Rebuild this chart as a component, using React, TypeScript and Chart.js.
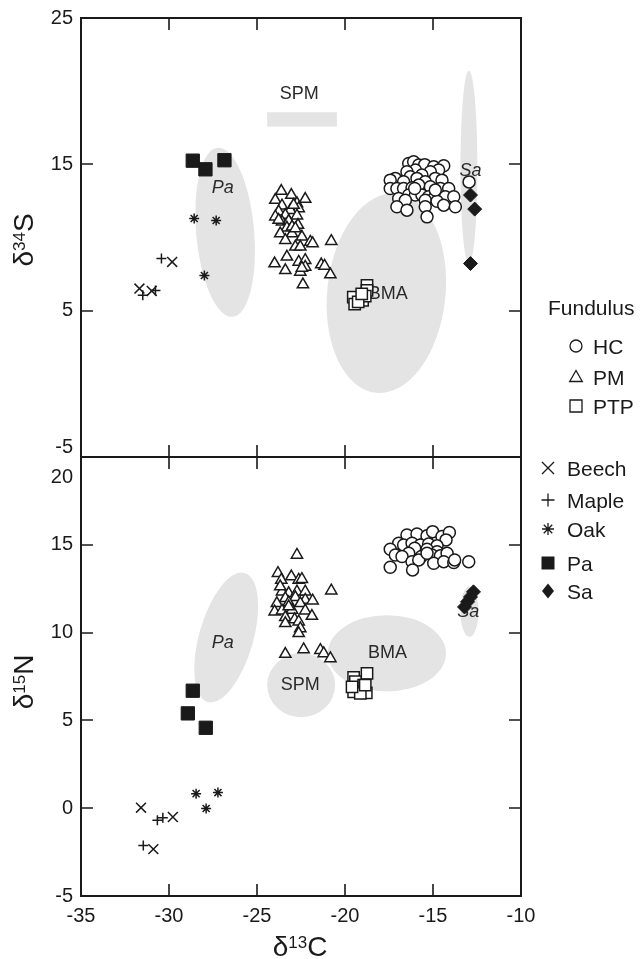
import React, { useEffect, useRef } from 'react';
import { Chart, registerables } from 'chart.js';

Chart.register(...registerables);

type Pt = [number, number];

// ---------- axes ----------
const X_MIN = -35;
const X_MAX = -10;
const X_TICKS = [-35, -30, -25, -20, -15, -10];
const S_MIN = -5;
const S_MAX = 25;
const S_TICKS = [-5, 5, 15, 25];
const N_MIN = -5;
const N_MAX = 20;
const N_TICKS = [-5, 0, 5, 10, 15, 20];

// ---------- δ13C / δ34S (upper panel) ----------
const BEECH_S: Pt[] = [[-31.68, 6.51], [-30.98, 6.35], [-29.82, 8.33]];
const MAPLE_S: Pt[] = [[-31.49, 6.05], [-30.77, 6.37], [-30.43, 8.56]];
const OAK_S: Pt[] = [[-28.57, 11.3], [-27.32, 11.16], [-27.99, 7.4]];
const PA_S: Pt[] = [[-28.65, 15.25], [-27.93, 14.66], [-26.85, 15.28]];
const SA_S: Pt[] = [[-12.87, 12.9], [-12.63, 11.94], [-12.87, 8.22]];
const PTP_S: Pt[] = [
  [-19.53, 5.93], [-19.45, 5.45], [-19.0, 5.71], [-18.75, 6.73],
  [-18.75, 6.39], [-18.85, 6.0], [-19.25, 5.6], [-19.05, 6.15],
];
const PM_S: Pt[] = [
  [-23.62, 13.17], [-23.05, 12.9], [-22.26, 12.63], [-23.96, 12.56], [-23.58, 12.17],
  [-22.73, 12.33], [-22.63, 11.99], [-23.11, 11.87], [-23.77, 11.76], [-23.39, 11.53],
  [-22.73, 11.49], [-23.96, 11.42], [-23.58, 11.07], [-23.2, 11.12], [-22.67, 10.85],
  [-23.3, 10.66], [-23.68, 10.27], [-23.01, 10.27], [-22.45, 10.05], [-23.39, 9.82],
  [-21.97, 9.7], [-21.84, 9.59], [-20.78, 9.75], [-22.82, 9.36], [-22.54, 9.36],
  [-23.3, 8.68], [-24.0, 8.22], [-22.63, 8.33], [-22.26, 8.45], [-23.39, 7.76],
  [-22.54, 7.65], [-22.26, 7.99], [-21.35, 8.15], [-21.16, 8.06], [-20.83, 7.47],
  [-22.39, 6.78], [-22.45, 7.92], [-22.92, 12.22], [-23.77, 11.19], [-23.01, 10.73],
  [-22.82, 10.62],
];
const HC_S: Pt[] = [
  [-16.38, 15.06], [-16.1, 15.18], [-15.81, 14.95], [-15.47, 14.98], [-14.96, 14.84],
  [-14.39, 14.9], [-14.68, 14.61], [-16.0, 14.61], [-16.48, 14.49], [-15.15, 14.49],
  [-15.63, 14.27], [-16.29, 14.15], [-17.14, 14.04], [-17.43, 13.92], [-14.87, 14.04],
  [-14.49, 13.92], [-15.91, 14.04], [-16.67, 13.81], [-15.44, 13.81], [-17.43, 13.35],
  [-17.05, 13.35], [-16.67, 13.35], [-16.19, 13.4], [-15.81, 13.58], [-15.15, 13.47],
  [-14.58, 13.35], [-14.11, 13.35], [-16.38, 12.9], [-16.0, 12.9], [-15.63, 12.9],
  [-15.25, 12.78], [-14.96, 12.67], [-14.3, 12.78], [-13.82, 12.78], [-16.95, 12.67],
  [-16.57, 12.55], [-15.44, 12.55], [-14.77, 12.48], [-17.05, 12.1], [-16.48, 11.87],
  [-15.44, 12.1], [-14.39, 12.21], [-13.73, 12.1], [-15.34, 11.41], [-16.04, 13.35],
  [-14.87, 13.24], [-12.95, 13.8],
];

// ---------- δ13C / δ15N (lower panel) ----------
const BEECH_N: Pt[] = [[-31.59, 0.03], [-29.78, -0.5], [-30.89, -2.33]];
const MAPLE_N: Pt[] = [[-30.66, -0.69], [-30.35, -0.54], [-31.46, -2.12]];
const OAK_N: Pt[] = [[-28.46, 0.83], [-27.22, 0.89], [-27.89, -0.02]];
const PA_N: Pt[] = [[-28.65, 6.69], [-28.93, 5.4], [-27.91, 4.58]];
const SA_N: Pt[] = [[-12.7, 12.32], [-12.87, 12.03], [-13.04, 11.75], [-13.21, 11.46]];
const PTP_N: Pt[] = [
  [-19.51, 7.45], [-18.75, 7.68], [-19.41, 7.2], [-18.94, 7.01], [-19.51, 6.63],
  [-18.79, 6.57], [-19.13, 6.54], [-19.6, 6.91], [-18.85, 7.01],
];
const PM_N: Pt[] = [
  [-22.73, 14.42], [-23.81, 13.38], [-23.62, 13.0], [-23.05, 13.19], [-22.63, 13.0],
  [-22.45, 13.04], [-20.78, 12.39], [-23.58, 12.33], [-23.2, 12.24], [-22.73, 12.33],
  [-22.26, 12.33], [-23.39, 11.95], [-22.82, 12.01], [-22.26, 11.86], [-21.84, 11.82],
  [-23.87, 11.67], [-23.2, 11.71], [-22.54, 11.67], [-24.0, 11.19], [-23.58, 11.25],
  [-23.01, 11.29], [-22.26, 11.25], [-21.88, 10.94], [-23.39, 10.87], [-22.86, 10.75],
  [-23.39, 10.53], [-22.63, 10.62], [-22.54, 10.24], [-22.63, 9.96], [-23.39, 8.78],
  [-22.35, 9.04], [-21.4, 9.0], [-21.21, 8.81], [-20.83, 8.53], [-23.2, 11.48],
  [-23.68, 12.62],
];
const HC_N: Pt[] = [
  [-16.48, 15.56], [-15.91, 15.62], [-15.34, 15.51], [-15.02, 15.75], [-14.49, 15.47],
  [-14.07, 15.7], [-14.26, 15.28], [-16.95, 15.09], [-16.67, 14.99], [-16.19, 15.09],
  [-15.72, 14.99], [-15.25, 15.05], [-14.77, 14.94], [-17.43, 14.75], [-16.04, 14.8],
  [-15.34, 14.75], [-14.77, 14.61], [-17.14, 14.42], [-16.38, 14.52], [-15.66, 14.33],
  [-15.06, 14.42], [-14.58, 14.37], [-14.2, 14.52], [-16.76, 14.33], [-16.19, 14.04],
  [-14.96, 13.95], [-14.39, 14.04], [-13.82, 13.99], [-15.81, 14.14], [-17.43, 13.72],
  [-16.16, 13.57], [-13.77, 14.14], [-12.97, 14.04], [-15.34, 14.52],
];

// ---------- source regions (data units: centre, semi-axes, tilt in degrees) ----------
type Ell = { cx: number; cy: number; rx: number; ry: number; rot: number };
type Box = { x0: number; x1: number; y0: number; y1: number };
type Lbl = { text: string; x: number; y: number; italic: boolean };

const S_ELLIPSES: Ell[] = [
  { cx: -26.81, cy: 10.36, rx: 1.65, ry: 5.8, rot: -5 },
  { cx: -17.65, cy: 6.2, rx: 3.36, ry: 6.85, rot: 6 },
  { cx: -12.96, cy: 14.8, rx: 0.48, ry: 6.6, rot: 0 },
];
const S_BOXES: Box[] = [{ x0: -24.42, x1: -20.46, y0: 17.58, y1: 18.56 }];
const S_LABELS: Lbl[] = [
  { text: 'SPM', x: -22.6, y: 19.82, italic: false },
  { text: 'Pa', x: -26.94, y: 13.36, italic: true },
  { text: 'BMA', x: -17.54, y: 6.12, italic: false },
  { text: 'Sa', x: -12.87, y: 14.55, italic: true },
];
const N_ELLIPSES: Ell[] = [
  { cx: -26.75, cy: 9.72, rx: 1.54, ry: 3.82, rot: 16 },
  { cx: -22.49, cy: 7.01, rx: 1.93, ry: 1.83, rot: 0 },
  { cx: -17.62, cy: 8.82, rx: 3.36, ry: 2.17, rot: 0 },
  { cx: -12.93, cy: 11.19, rx: 0.51, ry: 1.43, rot: 0 },
];
const N_BOXES: Box[] = [];
const N_LABELS: Lbl[] = [
  { text: 'Pa', x: -26.94, y: 9.42, italic: true },
  { text: 'SPM', x: -22.54, y: 7.01, italic: false },
  { text: 'BMA', x: -17.58, y: 8.82, italic: false },
  { text: 'Sa', x: -12.99, y: 11.19, italic: true },
];

// ---------- legend ----------
const LEGEND_TITLE = 'Fundulus';
const LEGEND_FISH: [string, string][] = [['circle', 'HC'], ['triangle', 'PM'], ['square', 'PTP']];
const LEGEND_SOURCES: [string, string][] = [
  ['x', 'Beech'], ['plus', 'Maple'], ['star', 'Oak'], ['fsquare', 'Pa'], ['fdiamond', 'Sa'],
];

// ---------- styles ----------
const FONT = '"Liberation Sans", Arial, Helvetica, sans-serif';
const INK = '#1a1a1a';
const REGION = '#e4e4e4';
const TICK_FONT = { family: FONT, size: 20, lineHeight: 1 };

const STYLE: Record<string, any> = {
  Beech: { pointStyle: 'crossRot', pointRadius: 7, backgroundColor: INK, borderColor: INK, borderWidth: 1.5 },
  Maple: { pointStyle: 'cross', pointRadius: 5, backgroundColor: INK, borderColor: INK, borderWidth: 1.5 },
  Oak: { pointStyle: 'star', pointRadius: 5, backgroundColor: INK, borderColor: INK, borderWidth: 1.5 },
  Pa: { pointStyle: 'rect', pointRadius: 9.4, backgroundColor: INK, borderColor: INK, borderWidth: 1 },
  Sa: { pointStyle: 'rectRot', pointRadius: 7, backgroundColor: INK, borderColor: INK, borderWidth: 1 },
  PTP: { pointStyle: 'rect', pointRadius: 8, backgroundColor: '#ffffff', borderColor: INK, borderWidth: 1.5 },
  PM: { pointStyle: 'triangle', pointRadius: 6.5, backgroundColor: '#ffffff', borderColor: INK, borderWidth: 1.5 },
  HC: { pointStyle: 'circle', pointRadius: 6, backgroundColor: '#ffffff', borderColor: INK, borderWidth: 1.5 },
};

function series(label: string, pts: Pt[]) {
  const s = STYLE[label];
  return {
    label,
    data: pts.map(([x, y]) => ({ x, y })),
    showLine: false,
    ...s,
    pointHoverRadius: s.pointRadius,
    pointBorderWidth: s.borderWidth,
  };
}

function regionPlugin(ells: Ell[], boxes: Box[], labels: Lbl[]) {
  return {
    id: 'regions',
    beforeDatasetsDraw(chart: any) {
      const { ctx, chartArea: a, scales } = chart;
      const xs = scales.x;
      const ys = scales.y;
      ctx.save();
      ctx.beginPath();
      ctx.rect(a.left, a.top, a.right - a.left, a.bottom - a.top);
      ctx.clip();
      ctx.fillStyle = REGION;
      for (const e of ells) {
        const px = xs.getPixelForValue(e.cx);
        const py = ys.getPixelForValue(e.cy);
        const rx = Math.abs(xs.getPixelForValue(e.cx + e.rx) - px);
        const ry = Math.abs(ys.getPixelForValue(e.cy + e.ry) - py);
        ctx.beginPath();
        ctx.ellipse(px, py, rx, ry, (e.rot * Math.PI) / 180, 0, Math.PI * 2);
        ctx.fill();
      }
      for (const b of boxes) {
        const x0 = xs.getPixelForValue(b.x0);
        const x1 = xs.getPixelForValue(b.x1);
        const y0 = ys.getPixelForValue(b.y0);
        const y1 = ys.getPixelForValue(b.y1);
        ctx.fillRect(Math.min(x0, x1), Math.min(y0, y1), Math.abs(x1 - x0), Math.abs(y1 - y0));
      }
      ctx.fillStyle = '#2a2a2a';
      ctx.textAlign = 'center';
      ctx.textBaseline = 'middle';
      for (const l of labels) {
        ctx.font = `${l.italic ? 'italic ' : ''}18px ${FONT}`;
        ctx.fillText(l.text, xs.getPixelForValue(l.x), ys.getPixelForValue(l.y));
      }
      ctx.restore();
    },
  };
}

function framePlugin(yTicks: number[]) {
  return {
    id: 'frame',
    afterDraw(chart: any) {
      const { ctx, chartArea: a, scales } = chart;
      const xs = scales.x;
      const ys = scales.y;
      const T = 12;
      ctx.save();
      ctx.strokeStyle = INK;
      ctx.lineWidth = 2;
      ctx.strokeRect(a.left, a.top, a.right - a.left, a.bottom - a.top);
      ctx.lineWidth = 1.6;
      ctx.beginPath();
      for (const v of yTicks) {
        if (v <= ys.min || v >= ys.max) continue;
        const p = Math.round(ys.getPixelForValue(v));
        ctx.moveTo(a.left, p);
        ctx.lineTo(a.left + T, p);
        ctx.moveTo(a.right - T, p);
        ctx.lineTo(a.right, p);
      }
      for (const v of X_TICKS) {
        if (v <= X_MIN || v >= X_MAX) continue;
        const p = Math.round(xs.getPixelForValue(v));
        ctx.moveTo(p, a.top);
        ctx.lineTo(p, a.top + T);
        ctx.moveTo(p, a.bottom - T);
        ctx.lineTo(p, a.bottom);
      }
      ctx.stroke();
      ctx.restore();
    },
  };
}

// draws δ + superscript + letter, optionally rotated
function drawIsoTitle(ctx: CanvasRenderingContext2D, sup: string, el: string, x: number, y: number, rotated: boolean) {
  const big = `28px ${FONT}`;
  const small = `17px ${FONT}`;
  ctx.save();
  ctx.fillStyle = INK;
  ctx.textBaseline = 'alphabetic';
  ctx.textAlign = 'left';
  ctx.font = big;
  const wd = ctx.measureText('δ').width;
  const we = ctx.measureText(el).width;
  ctx.font = small;
  const ws = ctx.measureText(sup).width;
  const total = wd + ws + we;
  ctx.translate(x, y);
  if (rotated) ctx.rotate(-Math.PI / 2);
  let u = -total / 2;
  ctx.font = big;
  ctx.fillText('δ', u, 0);
  u += wd;
  ctx.font = small;
  ctx.fillText(sup, u, -8);
  u += ws;
  ctx.font = big;
  ctx.fillText(el, u, 0);
  ctx.restore();
}

function drawSymbol(ctx: CanvasRenderingContext2D, kind: string, x: number, y: number) {
  ctx.save();
  ctx.strokeStyle = INK;
  ctx.fillStyle = INK;
  ctx.lineWidth = 1.3;
  ctx.beginPath();
  switch (kind) {
    case 'circle':
      ctx.arc(x, y, 6, 0, Math.PI * 2);
      ctx.stroke();
      break;
    case 'triangle':
      ctx.moveTo(x, y - 6.5);
      ctx.lineTo(x + 6.3, y + 4.5);
      ctx.lineTo(x - 6.3, y + 4.5);
      ctx.closePath();
      ctx.stroke();
      break;
    case 'square':
      ctx.rect(x - 6, y - 6, 12, 12);
      ctx.stroke();
      break;
    case 'x':
      ctx.moveTo(x - 6, y - 6);
      ctx.lineTo(x + 6, y + 6);
      ctx.moveTo(x - 6, y + 6);
      ctx.lineTo(x + 6, y - 6);
      ctx.stroke();
      break;
    case 'plus':
      ctx.moveTo(x - 6.5, y);
      ctx.lineTo(x + 6.5, y);
      ctx.moveTo(x, y - 6.5);
      ctx.lineTo(x, y + 6.5);
      ctx.stroke();
      break;
    case 'star': {
      const d = 6 * Math.SQRT1_2;
      ctx.moveTo(x - 6, y);
      ctx.lineTo(x + 6, y);
      ctx.moveTo(x, y - 6);
      ctx.lineTo(x, y + 6);
      ctx.moveTo(x - d, y - d);
      ctx.lineTo(x + d, y + d);
      ctx.moveTo(x - d, y + d);
      ctx.lineTo(x + d, y - d);
      ctx.stroke();
      break;
    }
    case 'fsquare':
      ctx.fillRect(x - 6.5, y - 6.5, 13, 13);
      break;
    case 'fdiamond':
      ctx.moveTo(x, y - 7.5);
      ctx.lineTo(x + 6, y);
      ctx.lineTo(x, y + 7.5);
      ctx.lineTo(x - 6, y);
      ctx.closePath();
      ctx.fill();
      break;
  }
  ctx.restore();
}

const topTitlePlugin = {
  id: 'topTitle',
  afterDraw(chart: any) {
    drawIsoTitle(chart.ctx, '34', 'S', 33, 240, true);
  },
};

const bottomExtrasPlugin = {
  id: 'bottomExtras',
  afterDraw(chart: any) {
    const ctx: CanvasRenderingContext2D = chart.ctx;
    drawIsoTitle(ctx, '15', 'N', 33, 682, true);
    drawIsoTitle(ctx, '13', 'C', 300, 956, false);
    // legend
    const fs = 21;
    const capHalf = fs * 0.716 / 2;
    ctx.save();
    ctx.fillStyle = INK;
    ctx.font = `${fs}px ${FONT}`;
    ctx.textAlign = 'left';
    ctx.textBaseline = 'alphabetic';
    ctx.fillText(LEGEND_TITLE, 548, 307 + capHalf);
    const fishY = [346, 377, 406];
    LEGEND_FISH.forEach(([k, t], i) => {
      drawSymbol(ctx, k, 576, fishY[i]);
      ctx.fillStyle = INK;
      ctx.font = `${fs}px ${FONT}`;
      ctx.fillText(t, 593, fishY[i] + capHalf);
    });
    const srcY = [468, 500, 529, 563, 591];
    LEGEND_SOURCES.forEach(([k, t], i) => {
      drawSymbol(ctx, k, 548, srcY[i]);
      ctx.fillStyle = INK;
      ctx.font = `${fs}px ${FONT}`;
      ctx.fillText(t, 567, srcY[i] + capHalf);
    });
    ctx.restore();
  },
};

function makeConfig(panel: 'top' | 'bottom'): any {
  const isTop = panel === 'top';
  const datasets = isTop
    ? [
        series('Beech', BEECH_S), series('Maple', MAPLE_S), series('Oak', OAK_S),
        series('Pa', PA_S), series('Sa', SA_S), series('PTP', PTP_S),
        series('PM', PM_S), series('HC', HC_S),
      ]
    : [
        series('Beech', BEECH_N), series('Maple', MAPLE_N), series('Oak', OAK_N),
        series('Pa', PA_N), series('Sa', SA_N), series('PTP', PTP_N),
        series('PM', PM_N), series('HC', HC_N),
      ];
  const yTicks = isTop ? S_TICKS : N_TICKS;
  return {
    type: 'scatter',
    data: { datasets },
    options: {
      responsive: false,
      animation: false,
      events: [],
      layout: {
        padding: isTop
          ? { left: 0, top: 18, right: 119, bottom: 502 }
          : { left: 0, top: 457, right: 119, bottom: 0 },
      },
      plugins: { legend: { display: false }, tooltip: { enabled: false } },
      scales: {
        x: {
          type: 'linear',
          display: !isTop,
          min: X_MIN,
          max: X_MAX,
          afterBuildTicks: (s: any) => {
            s.ticks = X_TICKS.map((v) => ({ value: v }));
          },
          ticks: {
            font: TICK_FONT,
            color: INK,
            padding: 10,
            maxRotation: 0,
            autoSkip: false,
            callback: (v: any) => String(v),
          },
          grid: { display: false, drawTicks: false },
          border: { display: false },
          afterFit: (s: any) => {
            s.height = isTop ? 0 : 63;
          },
        },
        y: {
          type: 'linear',
          position: 'left',
          min: isTop ? S_MIN : N_MIN,
          max: isTop ? S_MAX : N_MAX,
          afterBuildTicks: (s: any) => {
            s.ticks = yTicks.map((v) => ({ value: v }));
          },
          ticks: {
            font: TICK_FONT,
            color: INK,
            padding: 8,
            autoSkip: false,
            callback: (v: any) => {
              if (isTop && v === S_MIN) return [String(v), ''];
              if (!isTop && v === N_MAX) return ['', '', String(v)];
              return String(v);
            },
          },
          grid: { display: false, drawTicks: false },
          border: { display: false },
          afterFit: (s: any) => {
            s.width = 81;
          },
        },
      },
    },
    plugins: isTop
      ? [regionPlugin(S_ELLIPSES, S_BOXES, S_LABELS), framePlugin(yTicks), topTitlePlugin]
      : [regionPlugin(N_ELLIPSES, N_BOXES, N_LABELS), framePlugin(yTicks), bottomExtrasPlugin],
  };
}

export default function App() {
  const topRef = useRef<HTMLCanvasElement>(null);
  const botRef = useRef<HTMLCanvasElement>(null);
  useEffect(() => {
    const c1 = new Chart(topRef.current as HTMLCanvasElement, makeConfig('top'));
    const c2 = new Chart(botRef.current as HTMLCanvasElement, makeConfig('bottom'));
    return () => {
      c1.destroy();
      c2.destroy();
    };
  }, []);
  return (
    <div style={{ position: 'absolute', left: 0, top: 0, width: 640, height: 959, background: '#ffffff' }}>
      <canvas ref={topRef} width={640} height={959} style={{ position: 'absolute', left: 0, top: 0 }} />
      <canvas ref={botRef} width={640} height={959} style={{ position: 'absolute', left: 0, top: 0 }} />
    </div>
  );
}
